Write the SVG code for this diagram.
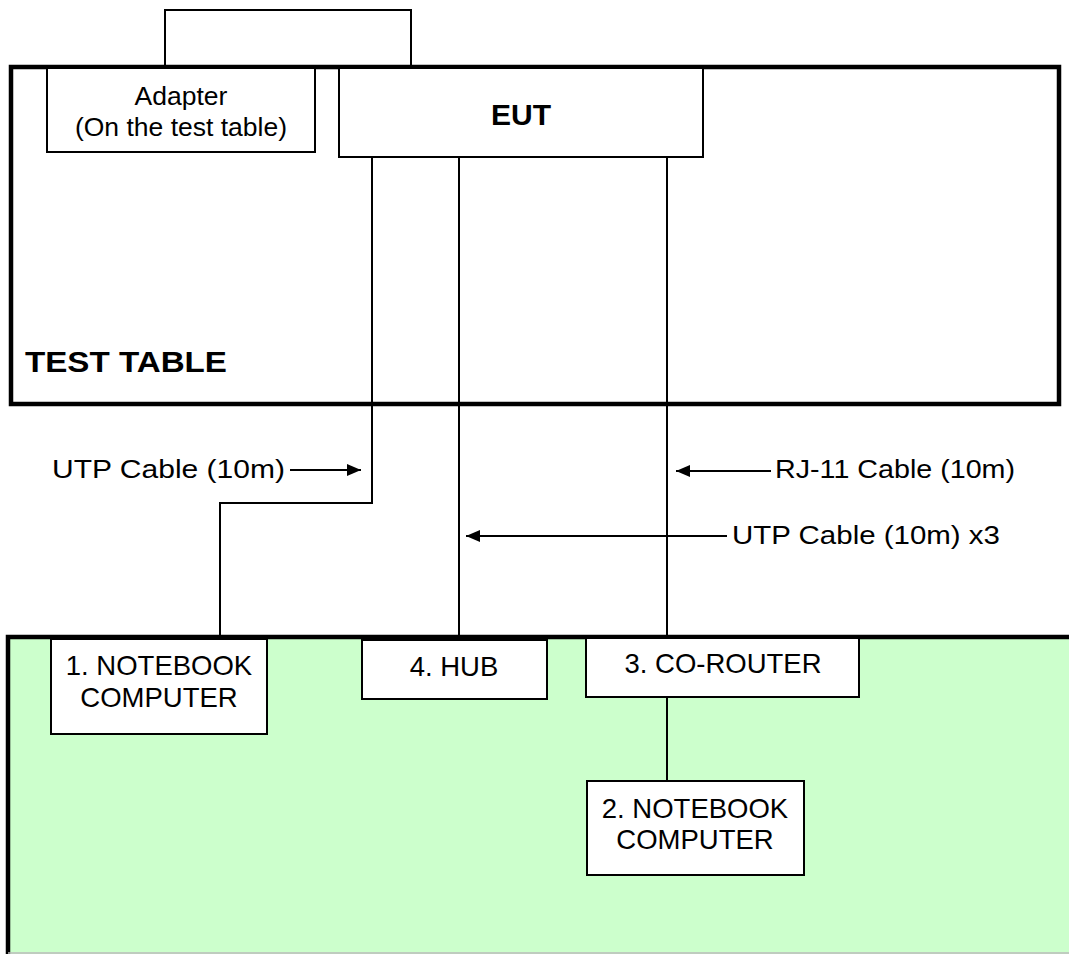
<svg xmlns="http://www.w3.org/2000/svg" width="1069" height="954" viewBox="0 0 1069 954">
<style>
.box{fill:#fff;stroke:#000;stroke-width:2}
.wire{fill:none;stroke:#000;stroke-width:2}
.t{font-family:"Liberation Sans",Arial,sans-serif;fill:#000}
.n{font-size:27.5px}
.a{font-size:26.5px}
.c{font-size:26px}
.b{font-weight:bold}
</style>
<defs>
<marker id="ah" markerWidth="14" markerHeight="12" refX="14" refY="6" orient="auto" markerUnits="userSpaceOnUse">
<path d="M0,0 L14,6 L0,12 Z" fill="#000"/>
</marker>
</defs>
<rect width="1069" height="954" fill="#fff"/>
<g id="top-box"><rect class="box" x="165" y="10" width="246" height="60"/></g>
<g id="test-table">
<rect x="11" y="67" width="1048" height="337" fill="#fff" stroke="#000" stroke-width="4.5"/>
<text class="t b" x="25" y="372" font-size="29" textLength="202" lengthAdjust="spacingAndGlyphs">TEST TABLE</text>
</g>
<g id="ground">
<rect x="8" y="637" width="1065" height="320" fill="#ccffcc" stroke="none"/>
<path d="M8,954 L8,637 L1069,637" fill="none" stroke="#000" stroke-width="4.5"/>
<line x1="8" y1="953" x2="1069" y2="953" stroke="#bbb" stroke-width="1.5"/>
</g>
<g id="connectors">
<path class="wire" d="M372,157 V503 H220 V637"/>
<line class="wire" x1="459" y1="157" x2="459" y2="639"/>
<line class="wire" x1="667" y1="157" x2="667" y2="639"/>
<line class="wire" x1="667" y1="697" x2="667" y2="781"/>
<line class="wire" x1="290" y1="470" x2="361" y2="470" marker-end="url(#ah)"/>
<line class="wire" x1="771" y1="471" x2="676" y2="471" marker-end="url(#ah)"/>
<line class="wire" x1="727" y1="536" x2="466" y2="536" marker-end="url(#ah)"/>
<text class="t c" x="52" y="478" textLength="233" lengthAdjust="spacingAndGlyphs">UTP Cable (10m)</text>
<text class="t c" x="775" y="478" textLength="240" lengthAdjust="spacingAndGlyphs">RJ-11 Cable (10m)</text>
<text class="t c" x="732" y="544" textLength="268" lengthAdjust="spacingAndGlyphs">UTP Cable (10m) x3</text>
</g>
<g id="adapter">
<rect class="box" x="47" y="68" width="268" height="84"/>
<text class="t a" x="181" y="105" text-anchor="middle">Adapter</text>
<text class="t a" x="181" y="136" text-anchor="middle">(On the test table)</text>
</g>
<g id="eut">
<rect class="box" x="339" y="68" width="364" height="89"/>
<text class="t b" x="521" y="125" font-size="30" text-anchor="middle">EUT</text>
</g>
<g id="notebook1">
<rect class="box" x="51" y="639" width="216" height="95"/>
<text class="t n" x="159" y="675" text-anchor="middle">1. NOTEBOOK</text>
<text class="t n" x="159" y="707" text-anchor="middle">COMPUTER</text>
</g>
<g id="hub">
<rect class="box" x="362" y="640" width="185" height="59"/>
<text class="t n" x="454" y="676" text-anchor="middle">4. HUB</text>
</g>
<g id="corouter">
<rect class="box" x="586" y="638" width="273" height="59"/>
<text class="t n" x="723" y="673" text-anchor="middle">3. CO-ROUTER</text>
</g>
<g id="notebook2">
<rect class="box" x="587" y="781" width="217" height="94"/>
<text class="t n" x="695" y="818" text-anchor="middle">2. NOTEBOOK</text>
<text class="t n" x="695" y="849" text-anchor="middle">COMPUTER</text>
</g>
</svg>
